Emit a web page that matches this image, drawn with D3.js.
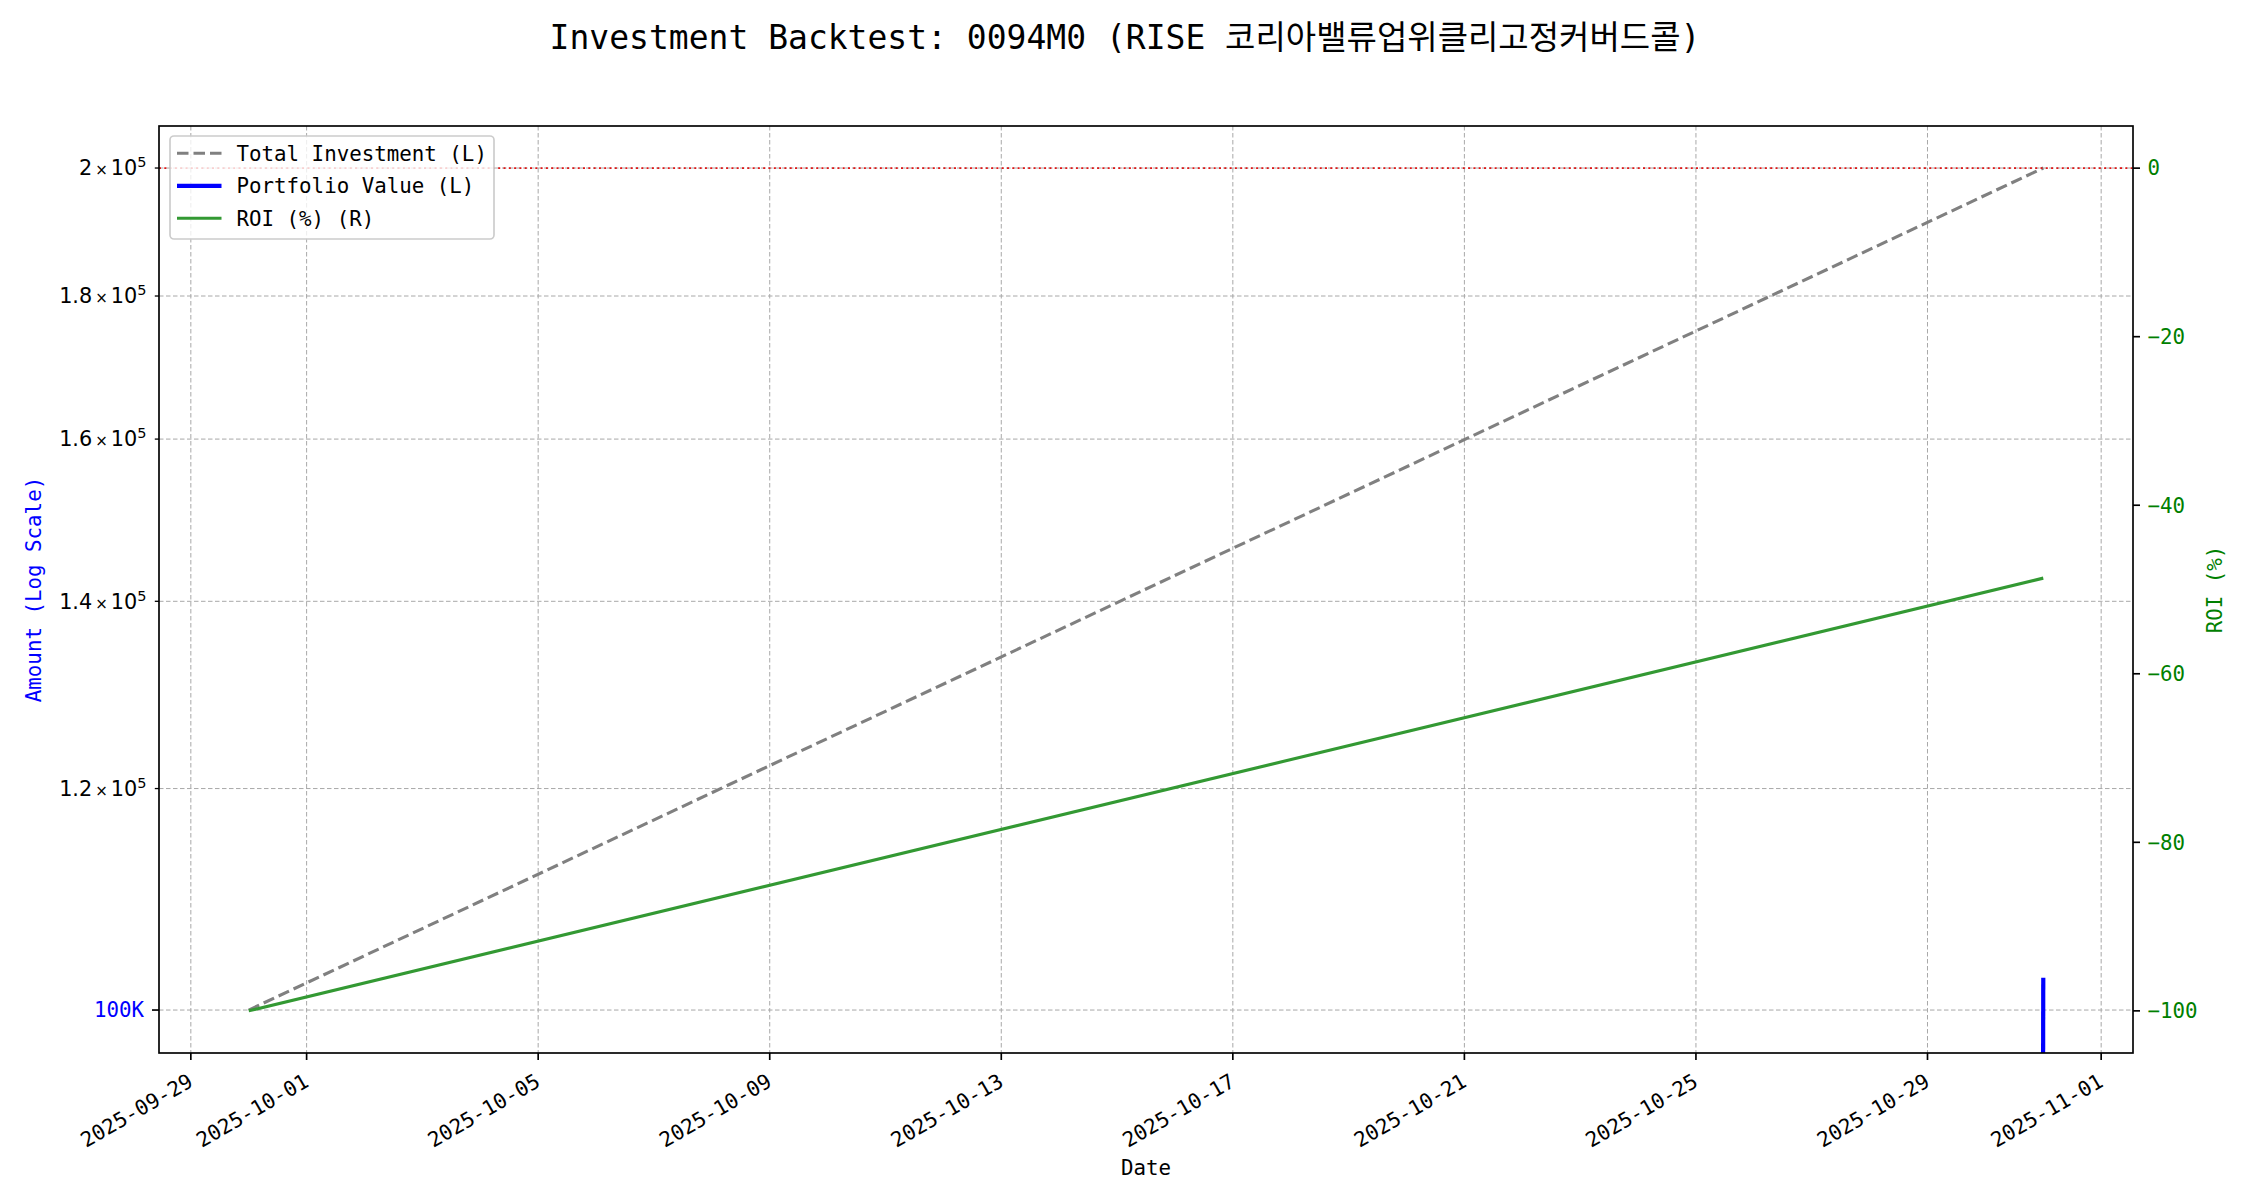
<!DOCTYPE html>
<html>
<head>
<meta charset="utf-8">
<script src="https://cdn.jsdelivr.net/npm/d3@7/dist/d3.min.js"></script>
<style>
  html, body { margin: 0; padding: 0; background: #fff; }
  svg { display: block; }
  .mono { font-family: "DejaVu Sans Mono", "Noto Sans CJK KR", monospace; }
  .sans { font-family: "DejaVu Sans", sans-serif; }
</style>
</head>
<body>
<svg id="chart" width="2250" height="1200"></svg>
<script>
// ---------------- DATA ----------------
const titleText = "Investment Backtest: 0094M0 (RISE 코리아밸류업위클리고정커버드콜)";
const dates = ["2025-09-30", "2025-10-31"];
const totalInvestment = [100000, 200000];
const portfolioValue = [0, 102700];
const roiPercent = [-100, -48.65];
const xTickLabels = ["2025-09-29", "2025-10-01", "2025-10-05", "2025-10-09", "2025-10-13",
                     "2025-10-17", "2025-10-21", "2025-10-25", "2025-10-29", "2025-11-01"];
const leftMajorTicks = [100000];
const leftMajorLabels = ["100K"];
const leftMinorTicks = [120000, 140000, 160000, 180000, 200000];
const leftMinorMantissa = ["1.2", "1.4", "1.6", "1.8", "2"];
const rightTicks = [0, -20, -40, -60, -80, -100];
const legendLabels = ["Total Investment (L)", "Portfolio Value (L)", "ROI (%) (R)"];

// ---------------- LAYOUT ----------------
const W = 2250, H = 1200;
const L = 159, R = 2133, T = 126, B = 1053;
const svg = d3.select("#chart");
const parse = d3.utcParse("%Y-%m-%d");

const xStart = parse(dates[0]).getTime(), xEnd = parse(dates[dates.length - 1]).getTime();
const xPad = (xEnd - xStart) * 0.05;
const x = d3.scaleUtc().domain([new Date(xStart - xPad), new Date(xEnd + xPad)]).range([L, R]);
const yL = d3.scaleLog().domain([96525, 207040]).range([B, T]);
const yR = d3.scaleLinear().domain([-105, 5]).range([B, T]);
const safeLog = v => yL(v > 0 ? v : 1e-300);

const defs = svg.append("defs");
defs.append("clipPath").attr("id", "plotclip")
  .append("rect").attr("x", L).attr("y", T).attr("width", R - L).attr("height", B - T);

// ---------------- GRID ----------------
const grid = svg.append("g");
const gridStyle = sel => sel.attr("stroke", "#a8a8a8").attr("stroke-width", 1)
  .attr("stroke-dasharray", "4.5,2.5").attr("fill", "none");
xTickLabels.forEach(t => {
  const xx = x(parse(t));
  grid.append("line").attr("x1", xx).attr("x2", xx).attr("y1", T).attr("y2", B).call(gridStyle);
});
leftMajorTicks.concat(leftMinorTicks).forEach(v => {
  const yy = yL(v);
  grid.append("line").attr("x1", L).attr("x2", R).attr("y1", yy).attr("y2", yy).call(gridStyle);
});

// ---------------- LINES ----------------
const plot = svg.append("g").attr("clip-path", "url(#plotclip)");
const pts = (arr, yfn) => dates.map((d, i) => [x(parse(d)), yfn(arr[i])]);
const lineGen = d3.line();

plot.append("path").attr("d", lineGen(pts(totalInvestment, yL)))
  .attr("fill", "none").attr("stroke", "#808080").attr("stroke-width", 3.1)
  .attr("stroke-dasharray", "11.5,5");
plot.append("path").attr("d", lineGen(pts(portfolioValue, safeLog)))
  .attr("fill", "none").attr("stroke", "#0000ff").attr("stroke-width", 4.2);
plot.append("path").attr("d", lineGen(pts(roiPercent, yR)))
  .attr("fill", "none").attr("stroke", "#339933").attr("stroke-width", 3.1);
plot.append("line").attr("x1", L).attr("x2", R).attr("y1", yR(0)).attr("y2", yR(0))
  .attr("stroke", "#e01515").attr("stroke-width", 1.7).attr("stroke-dasharray", "2,3.3");

// ---------------- AXES ----------------
const ax = svg.append("g");
ax.append("rect").attr("x", L).attr("y", T).attr("width", R - L).attr("height", B - T)
  .attr("fill", "none").attr("stroke", "#000").attr("stroke-width", 1.67);

// bottom ticks
xTickLabels.forEach(t => {
  const xx = x(parse(t));
  ax.append("line").attr("x1", xx).attr("x2", xx).attr("y1", B).attr("y2", B + 7)
    .attr("stroke", "#000").attr("stroke-width", 1.67);
  ax.append("text").attr("class", "mono")
    .attr("transform", `translate(${xx + 3.5},${B + 32.5}) rotate(-30)`)
    .attr("text-anchor", "end").attr("font-size", 20.8).attr("fill", "#000").text(t);
});
ax.append("text").attr("class", "mono").attr("x", (L + R) / 2).attr("y", 1175)
  .attr("text-anchor", "middle").attr("font-size", 20.8).attr("fill", "#000").text("Date");

// left ticks
leftMajorTicks.forEach((v, i) => {
  const yy = yL(v);
  ax.append("line").attr("x1", L - 7).attr("x2", L).attr("y1", yy).attr("y2", yy)
    .attr("stroke", "#000").attr("stroke-width", 1.67);
  ax.append("text").attr("class", "mono").attr("x", L - 15).attr("y", yy).attr("dy", "0.35em")
    .attr("text-anchor", "end").attr("font-size", 20.8).attr("fill", "#0000ff").text(leftMajorLabels[i]);
});
leftMinorTicks.forEach((v, i) => {
  const yy = yL(v);
  ax.append("line").attr("x1", L - 4.2).attr("x2", L).attr("y1", yy).attr("y2", yy)
    .attr("stroke", "#000").attr("stroke-width", 1.3);
  const t = ax.append("text").attr("class", "sans").attr("x", L - 12.5).attr("y", yy).attr("dy", "0.35em")
    .attr("text-anchor", "end").attr("font-size", 20.8).attr("fill", "#000");
  t.append("tspan").text(leftMinorMantissa[i]);
  t.append("tspan").attr("font-size", 15).attr("dx", 3).text("×");
  t.append("tspan").attr("dx", 3).text("10");
  t.append("tspan").attr("font-size", 14.5).attr("dy", "-0.55em").text("5");
});
ax.append("text").attr("class", "mono")
  .attr("transform", `translate(41,${(T + B) / 2}) rotate(-90)`)
  .attr("text-anchor", "middle").attr("font-size", 20.8).attr("fill", "#0000ff").text("Amount (Log Scale)");

// right ticks
rightTicks.forEach(v => {
  const yy = yR(v);
  ax.append("line").attr("x1", R).attr("x2", R + 7).attr("y1", yy).attr("y2", yy)
    .attr("stroke", "#000").attr("stroke-width", 1.67);
  ax.append("text").attr("class", "mono").attr("x", R + 14.5).attr("y", yy).attr("dy", "0.35em")
    .attr("text-anchor", "start").attr("font-size", 20.8).attr("fill", "#008000")
    .text(d3.format("d")(v).replace("-", "\u2212"));
});
ax.append("text").attr("class", "mono")
  .attr("transform", `translate(2222,${(T + B) / 2}) rotate(-90)`)
  .attr("text-anchor", "middle").attr("font-size", 20.8).attr("fill", "#008000").text("ROI (%)");

// ---------------- LEGEND ----------------
const lg = svg.append("g");
lg.append("rect").attr("x", 170).attr("y", 136).attr("width", 324).attr("height", 103)
  .attr("rx", 4).attr("fill", "#fff").attr("fill-opacity", 0.8)
  .attr("stroke", "#cccccc").attr("stroke-width", 1.67);
const legendStyles = [
  { stroke: "#808080", w: 3.1, dash: "11.5,5" },
  { stroke: "#0000ff", w: 4.2, dash: null },
  { stroke: "#339933", w: 3.1, dash: null }
];
legendLabels.forEach((lab, i) => {
  const yy = 153.3 + i * 32.5;
  const ln = lg.append("line").attr("x1", 177).attr("x2", 221.5).attr("y1", yy).attr("y2", yy)
    .attr("stroke", legendStyles[i].stroke).attr("stroke-width", legendStyles[i].w);
  if (legendStyles[i].dash) ln.attr("stroke-dasharray", legendStyles[i].dash);
  lg.append("text").attr("class", "mono").attr("x", 236.5).attr("y", yy).attr("dy", "0.35em")
    .attr("font-size", 20.8).attr("fill", "#000").text(lab);
});

// ---------------- TITLE ----------------
svg.append("text").attr("class", "mono").attr("x", W / 2).attr("y", 49)
  .attr("text-anchor", "middle").attr("font-size", 33).attr("fill", "#000").text(titleText);
</script>
</body>
</html>
